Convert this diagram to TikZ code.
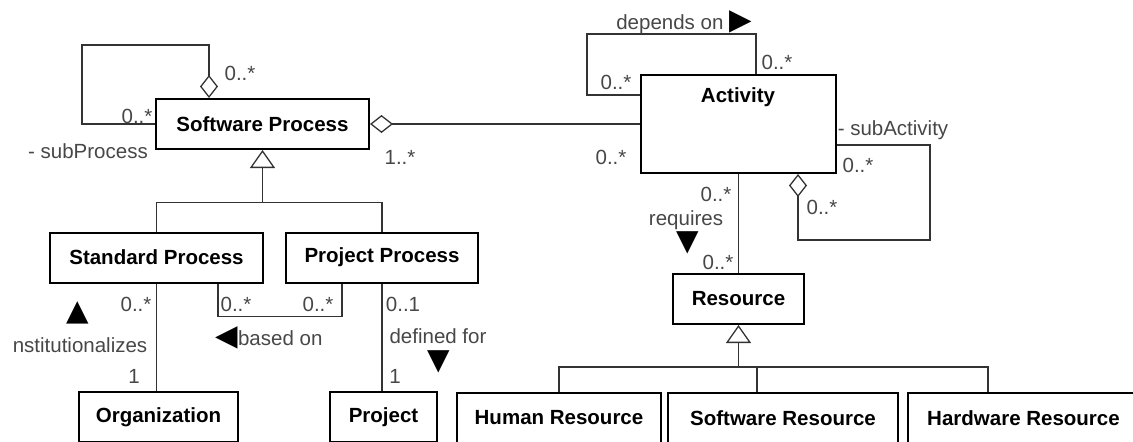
\documentclass[tikz,border=0pt]{standalone}
\usepackage{fontspec}
\setmainfont{Liberation Sans}
\newfontfamily\symfont{DejaVu Sans}
\usetikzlibrary{arrows.meta}
\usetikzlibrary{calc}
\usetikzlibrary{positioning}

\definecolor{lblgray}{gray}{0.28}
\definecolor{linegray}{gray}{0.2}
\newcommand{\dirmark}[1]{{\color{black}\symfont\fontsize{25}{25}\selectfont #1}}

\begin{document}
\begin{tikzpicture}[x=0.03cm, y=-0.03cm, font=\fontsize{17.5}{20}\selectfont,
  cls/.style={draw, line width=1.7pt, font=\fontsize{17.5}{20}\selectfont\bfseries, minimum height=1.5cm, inner sep=0pt},
  clsname/.style={font=\fontsize{17.5}{20}\selectfont\bfseries, inner sep=0pt},
  lbl/.style={text=lblgray, inner sep=0pt},
  conn/.style={line width=1.1pt, draw=linegray},
  aggr/.style={conn, -{Diamond[open, length=0.69cm, width=0.54cm]}},
  gen/.style={conn, -{Triangle[open, length=0.54cm, width=0.75cm]}}]
\useasboundingbox (0,0) rectangle (1133,441);
\clip (0,0) rectangle (1133,441);

\node[cls, minimum width=6.39cm] (softproc) at (262.5,124) {Software Process};
\node[cls, minimum width=5.85cm, minimum height=2.94cm] (activity) at (738.5,124) {};
\node[clsname] (actname) at (738,97) {Activity};
\node[cls, minimum width=6.39cm] (stdproc) at (156.5,257.5) {Standard Process};
\node[cls, minimum width=5.76cm] (projproc) at (382,257.5) {Project Process};
\node[cls, minimum width=4.77cm] (org) at (158.5,417) {Organization};
\node[cls, minimum width=3.21cm] (proj) at (383.5,417) {Project};
\node[cls, minimum width=3.93cm] (res) at (738.5,299) {Resource};
\node[cls, minimum width=6.12cm] (humres) at (559,418) {Human Resource};
\node[cls, minimum width=6.9cm] (swres) at (783,418) {Software Resource};
\node[cls, minimum width=6.93cm] (hwres) at (1023.5,418) {Hardware Resource};

\coordinate (spjoin) at (262.5,203);
\coordinate (resjoin) at (738.5,368);

\draw[aggr] (softproc.west) -- ++(-73,0) -- ++(0,-79) -| ($(softproc.north)+(-53.5,0)$);
\draw[aggr] (activity.west) -- (softproc.east);
\draw[conn] ($(activity.north west)+(0,21)$) -- ++(-53,0) -- ++(0,-61) -| ($(activity.north)+(17.5,0)$);
\draw[aggr] ($(activity.north east)+(0,71)$) -- ++(93,0) -- ++(0,95) -| ($(activity.south)+(59.5,0)$);
\draw[conn] (activity) -- (res);

\draw[gen] (spjoin) -- (softproc.south);
\draw[conn] (stdproc.north) -- ++(0,-29) -| (projproc.north);
\draw[conn] (stdproc.south) -- (stdproc.south |- org.north);
\draw[conn] ($(stdproc.south)+(61.5,0)$) -- ++(0,33) -| ($(projproc.south)+(-40,0)$);
\draw[conn] (projproc.south) -- (projproc.south |- proj.north);

\draw[gen] (resjoin) -- (res.south);
\draw[conn] (humres.north) -- ++(0,-25) -| ($(hwres.north west)+(81,0)$);
\draw[conn] ($(swres.north west)+(90,0)$) -- ++(0,-25);

\node[lbl] (spagg) at (240,73) {0..*};
\node[lbl] (spsub) at (137,116) {0..*};
\node[lbl] (subproc) at (88,151) {- subProcess};
\node[lbl] (spact) at (400,157) {1..*};
\node[lbl] (actsp) at (611,157) {0..*};
\node[lbl] (depon) at (684,22) {depends on \dirmark{▶}};
\node[lbl] (depa) at (616,82) {0..*};
\node[lbl] (depb) at (777,62) {0..*};
\node[lbl] (subact) at (893,130) {- subActivity};
\node[lbl] (suba) at (858,165) {0..*};
\node[lbl] (subb) at (822,207) {0..*};
\node[lbl] (reqa) at (716,194) {0..*};
\node[lbl] (req) at (686,220) {requires};
\node[lbl] (reqdir) at (688,243) {\dirmark{▼}};
\node[lbl] (reqb) at (718,262) {0..*};
\node[lbl] (insta) at (136,304) {0..*};
\node[lbl] (instdir) at (78,313) {\dirmark{▲}};
\node[lbl] (inst) at (80,345) {nstitutionalizes};
\node[lbl] (instb) at (134,376) {1};
\node[lbl] (basa) at (236,304) {0..*};
\node[lbl] (basb) at (318,304) {0..*};
\node[lbl] (bason) at (269,338) {\dirmark{◀}based on};
\node[lbl] (defa) at (403,304) {0..1};
\node[lbl] (deffor) at (438,336) {defined for};
\node[lbl] (defdir) at (439,362) {\dirmark{▼}};
\node[lbl] (defb) at (395,376) {1};
\end{tikzpicture}
\end{document}
